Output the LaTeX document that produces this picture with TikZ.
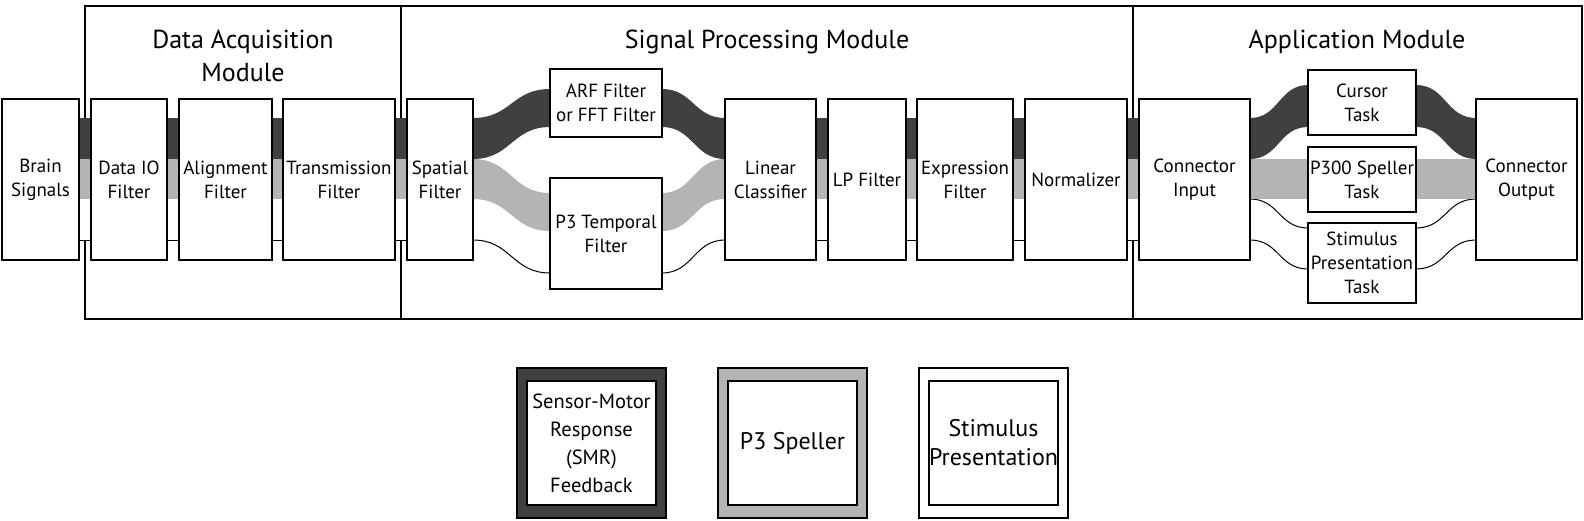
\documentclass[tikz,border=0pt]{standalone}
\usepackage{fontspec}
\setmainfont{PT Sans}
\newcommand\bxfont{\fontsize{19}{24}\selectfont}
\newcommand\ttlfont{\fontsize{26}{33}\selectfont}
\newcommand\lgfont{\fontsize{20.5}{28}\selectfont}
\newcommand\lgbigfont{\fontsize{24}{29}\selectfont}
\definecolor{darkc}{RGB}{64,64,64}
\definecolor{grayc}{RGB}{180,180,180}
% straight band segment between two nodes
\newcommand\bandstraight[2]{%
  \fill[white] (#1.east|-0,199) rectangle (#2.west|-0,240);
  \draw[bandline] (#1.east|-0,240) -- (#2.west|-0,240);
  \fill[grayc] (#1.east|-0,159) rectangle (#2.west|-0,199);
  \fill[darkc] (#1.east|-0,118) rectangle (#2.west|-0,159);
}
% curved filled band: style, from, to, y1top, y1bot, y2top, y2bot, control length
\newcommand\bandcurve[8]{%
  \fill[#1] (#2.east|-0,#4) .. controls +(#8,0) and +(-#8,0) .. (#3.west|-0,#6)
    -- (#3.west|-0,#7) .. controls +(-#8,0) and +(#8,0) .. (#2.east|-0,#5) -- cycle;
}
% thin outline of a curved band edge: from, to, y1, y2, control length
\newcommand\bandedge[5]{%
  \draw[bandline] (#1.east|-0,#3) .. controls +(#5,0) and +(-#5,0) .. (#2.west|-0,#4);
}
\begin{document}
\begin{tikzpicture}[x=1pt,y=-1pt,
  box/.style={draw=black, line width=1.9pt, fill=white, inner sep=0pt, outer sep=0pt, align=center, font=\bxfont},
  anc/.style={inner sep=0pt, outer sep=0pt},
  ttl/.style={font=\ttlfont, anchor=base, inner sep=0pt},
  bandline/.style={draw=black, line width=1pt},
  frameline/.style={draw=black, line width=2pt},
  divline/.style={draw=black, line width=1.2pt},
  legout/.style={draw=black, line width=1.2pt, inner sep=0pt, outer sep=0pt, minimum width=149pt, minimum height=150pt},
  legin/.style={draw=black, line width=1.6pt, fill=white, inner sep=0pt, outer sep=0pt, minimum width=129pt, minimum height=124pt, align=center, font=\lgfont}]
\useasboundingbox (0,0) rectangle (1584,520);

% module frame and dividers
\draw[frameline] (85,6) rectangle (1582,319);
\coordinate (d1t) at (401,6); \coordinate (d1b) at (401,319);
\coordinate (d2t) at (1133,6); \coordinate (d2b) at (1133,319);
\draw[divline] (d1t) -- (d1b);
\draw[divline] (d2t) -- (d2b);

% titles
\node[ttl] (tdaq1) at (243,48) {Data Acquisition};
\node[ttl] (tdaq2) at (243,81) {Module};
\node[ttl] (tsig) at (767,48) {Signal Processing Module};
\node[ttl] (tapp) at (1357,48) {Application Module};

% invisible placeholders so that the bands can be drawn from node to node before the boxes
\path
  node[anc, minimum width=77pt, minimum height=161pt] (brain) at (40.5,179.5) {}
  node[anc, minimum width=76pt, minimum height=161pt] (dataio) at (129,179.5) {}
  node[anc, minimum width=93pt, minimum height=161pt] (align) at (225.5,179.5) {}
  node[anc, minimum width=112pt, minimum height=161pt] (trans) at (339,179.5) {}
  node[anc, minimum width=66pt, minimum height=161pt] (spatial) at (440,179.5) {}
  node[anc, minimum width=112pt, minimum height=68pt] (arf) at (606,103) {}
  node[anc, minimum width=112pt, minimum height=111pt] (p3t) at (606,233.5) {}
  node[anc, minimum width=91pt, minimum height=161pt] (linear) at (770.5,179.5) {}
  node[anc, minimum width=78pt, minimum height=161pt] (lp) at (867,179.5) {}
  node[anc, minimum width=96pt, minimum height=161pt] (expr) at (965,179.5) {}
  node[anc, minimum width=102pt, minimum height=161pt] (norm) at (1076,179.5) {}
  node[anc, minimum width=111pt, minimum height=161pt] (connin) at (1194.5,179.5) {}
  node[anc, minimum width=108pt, minimum height=65pt] (cursor) at (1362,102.5) {}
  node[anc, minimum width=108pt, minimum height=65pt] (p300) at (1362,179.5) {}
  node[anc, minimum width=108pt, minimum height=80pt] (stim) at (1362,263) {}
  node[anc, minimum width=101pt, minimum height=161pt] (connout) at (1526.5,179.5) {};

% straight bands
\bandstraight{brain}{dataio}
\bandstraight{dataio}{align}
\bandstraight{align}{trans}
\bandstraight{trans}{spatial}
\bandstraight{linear}{lp}
\bandstraight{lp}{expr}
\bandstraight{expr}{norm}
\bandstraight{norm}{connin}

% signal processing branches
\bandcurve{white}{spatial}{p3t}{199}{240}{231}{273}{38}
\bandedge{spatial}{p3t}{240}{273}{38}
\bandcurve{white}{p3t}{linear}{231}{273}{199}{240}{31}
\bandedge{p3t}{linear}{273}{240}{31}
\bandcurve{grayc}{spatial}{p3t}{159}{199}{193}{231}{38}
\bandcurve{grayc}{p3t}{linear}{193}{231}{159}{199}{31}
\bandcurve{darkc}{spatial}{arf}{118}{159}{89}{127}{38}
\bandcurve{darkc}{arf}{linear}{89}{127}{118}{159}{31}

% application branches
\bandcurve{white}{connin}{stim}{199}{240}{228}{269}{29}
\bandedge{connin}{stim}{199}{228}{29}
\bandedge{connin}{stim}{240}{269}{29}
\bandcurve{white}{stim}{connout}{228}{269}{199}{240}{30}
\bandedge{stim}{connout}{228}{199}{30}
\bandedge{stim}{connout}{269}{240}{30}
\fill[grayc] (connin.east|-0,159) rectangle (connout.west|-0,199);
\bandcurve{darkc}{connin}{cursor}{118}{159}{85}{127}{29}
\bandcurve{darkc}{cursor}{connout}{85}{127}{118}{159}{30}

% boxes
\node[box, minimum width=77pt, minimum height=161pt] (brainb) at (brain) {Brain\\Signals};
\node[box, minimum width=76pt, minimum height=161pt] (dataiob) at (dataio) {Data IO\\Filter};
\node[box, minimum width=93pt, minimum height=161pt] (alignb) at (align) {Alignment\\Filter};
\node[box, minimum width=112pt, minimum height=161pt] (transb) at (trans) {Transmission\\Filter};
\node[box, minimum width=66pt, minimum height=161pt] (spatialb) at (spatial) {Spatial\\Filter};
\node[box, minimum width=112pt, minimum height=68pt] (arfb) at (arf) {ARF Filter\\or FFT Filter};
\node[box, minimum width=112pt, minimum height=111pt] (p3tb) at (p3t) {P3 Temporal\\Filter};
\node[box, minimum width=91pt, minimum height=161pt] (linearb) at (linear) {Linear\\Classifier};
\node[box, minimum width=78pt, minimum height=161pt] (lpb) at (lp) {LP Filter};
\node[box, minimum width=96pt, minimum height=161pt] (exprb) at (expr) {Expression\\Filter};
\node[box, minimum width=102pt, minimum height=161pt] (normb) at (norm) {Normalizer};
\node[box, minimum width=111pt, minimum height=161pt] (conninb) at (connin) {Connector\\Input};
\node[box, minimum width=108pt, minimum height=65pt] (cursorb) at (cursor) {Cursor\\Task};
\node[box, minimum width=108pt, minimum height=65pt] (p300b) at (p300) {P300 Speller\\Task};
\node[box, minimum width=108pt, minimum height=80pt] (stimb) at (stim) {Stimulus\\Presentation\\Task};
\node[box, minimum width=101pt, minimum height=161pt] (connoutb) at (connout) {Connector\\Output};

% legend
\node[legout, fill=darkc] (lg1) at (591.5,443) {};
\node[legin] (lg1i) at (lg1.center) {Sensor-Motor\\Response\\(SMR)\\Feedback};
\node[legout, fill=grayc] (lg2) at (792.5,443) {};
\node[legin, font=\lgbigfont] (lg2i) at (lg2.center) {P3 Speller};
\node[legout, fill=white, line width=2pt] (lg3) at (993.5,443) {};
\node[legin, font=\lgbigfont] (lg3i) at (lg3.center) {Stimulus\\Presentation};
\end{tikzpicture}
\end{document}
